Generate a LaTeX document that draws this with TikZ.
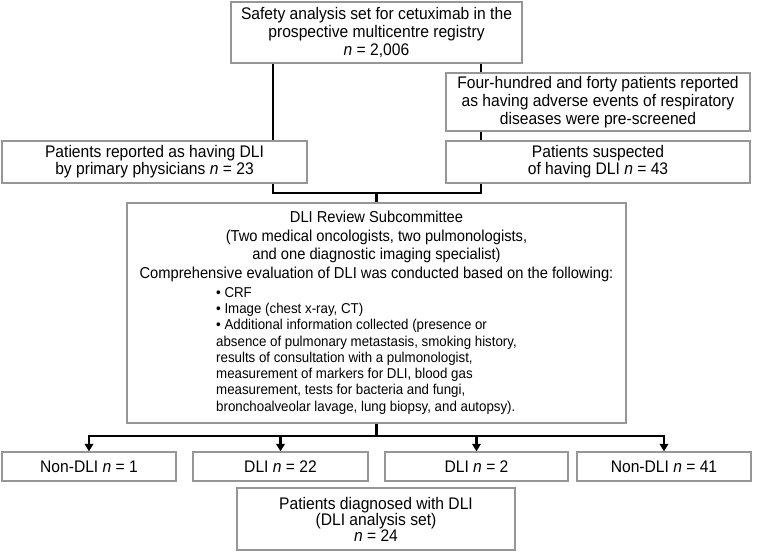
\documentclass[tikz,border=0pt]{standalone}
\usepackage{fontspec}
\setmainfont{Liberation Sans}[FakeStretch=0.93]
\usetikzlibrary{arrows.meta, positioning, calc}
\definecolor{boxgray}{RGB}{150,150,150}

\begin{document}
\begin{tikzpicture}[x=1pt, y=-1pt,
  flowbox/.style={draw=boxgray, line width=1.3pt, align=center, inner sep=0pt, font=\fontsize{16.8}{18}\selectfont},
  link/.style={line width=2.4pt},
  arrowlink/.style={line width=2.4pt, -{Triangle[width=8.5pt,length=7.5pt]}}]
\useasboundingbox (0,0) rectangle (760,552);

% screening boxes
\node[flowbox, minimum width=291, minimum height=61] (registry) at (376.5,32.5) {Safety analysis set for cetuximab in the\\prospective multicentre registry\\\textit{n} = 2,006};
\node[flowbox, minimum width=304, minimum height=58] (prescreen) at (598,102) {Four-hundred and forty patients reported\\as having adverse events of respiratory\\diseases were pre-screened};
\node[flowbox, minimum width=305, minimum height=42, font=\fontsize{16.8}{17}\selectfont] (physicians) at (154.5,162) {Patients reported as having DLI\\by primary physicians \textit{n} = 23};
\node[flowbox, minimum width=304, minimum height=42, font=\fontsize{16.8}{17}\selectfont] (suspected) at (598,162) {Patients suspected\\of having DLI \textit{n} = 43};

% review subcommittee
\node[flowbox, minimum width=499, minimum height=220] (review) at (376.5,313) {};
\node[anchor=north, align=center, inner sep=0pt, font=\fontsize{15.8}{18.6}\selectfont] (reviewhead) at (376.5,211) {DLI Review Subcommittee\\(Two medical oncologists, two pulmonologists,\\and one diagnostic imaging specialist)\\Comprehensive evaluation of DLI was conducted based on the following:};
\node[anchor=north west, align=left, inner sep=0pt, font=\fontsize{14.3}{16.3}\selectfont] (reviewlist) at (216,287) {• CRF\\• Image (chest x-ray, CT)\\• Additional information collected (presence or\\absence of pulmonary metastasis, smoking history,\\results of consultation with a pulmonologist,\\measurement of markers for DLI, blood gas\\measurement, tests for bacteria and fungi,\\bronchoalveolar lavage, lung biopsy, and autopsy).};

% outcome boxes
\node[flowbox, minimum width=174, minimum height=29] (nondlione) at (89,466.5) {Non-DLI \textit{n} = 1};
\node[flowbox, minimum width=175, minimum height=29] (dlitwentytwo) at (280.5,466.5) {DLI \textit{n} = 22};
\node[flowbox, minimum width=183, minimum height=29] (dlitwo) at (476.5,466.5) {DLI \textit{n} = 2};
\node[flowbox, minimum width=174, minimum height=29] (nondlifortyone) at (664,466.5) {Non-DLI \textit{n} = 41};
\node[flowbox, minimum width=278, minimum height=62, font=\fontsize{16.8}{15.5}\selectfont] (analysisset) at (376,519) {Patients diagnosed with DLI\\(DLI analysis set)\\\textit{n} = 24};

% connectors
\coordinate (leftx) at (273,0);
\coordinate (rightx) at (481,0);
\coordinate (merge) at (376.5,193);
\coordinate (fork) at (376.5,436);

\draw[link] (registry.south -| leftx) -- (physicians.north -| leftx);
\draw[link] (registry.south -| rightx) -- (prescreen.north -| rightx);
\draw[link] (prescreen.south -| rightx) -- (suspected.north -| rightx);
\draw[link] (physicians.south -| leftx) |- (merge) -- (review.north);
\draw[link] (suspected.south -| rightx) |- (merge);
\draw[link] (review.south) -- (fork);
\foreach \outcome in {nondlione, dlitwentytwo, dlitwo, nondlifortyone}
  \draw[arrowlink] (fork) -| (\outcome.north);
\end{tikzpicture}
\end{document}
